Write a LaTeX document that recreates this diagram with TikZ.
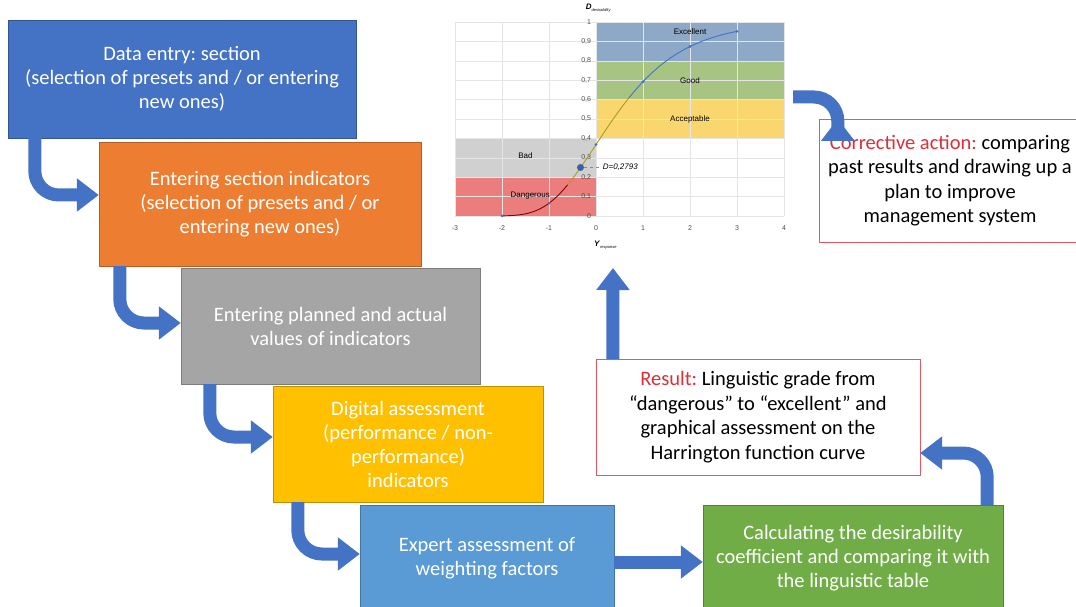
\documentclass[tikz,border=0pt]{standalone}
\usepackage{fontspec}
\setmainfont{Carlito}
\setsansfont{Liberation Sans}
\usepackage{tikz}
\usetikzlibrary{arrows.meta,positioning,calc}
\frenchspacing
\definecolor{cBlue}{HTML}{4472C4}
\definecolor{cOrange}{HTML}{ED7D31}
\definecolor{cGray}{HTML}{A5A5A5}
\definecolor{cGold}{HTML}{FFC000}
\definecolor{cSky}{HTML}{5B9BD5}
\definecolor{cGreen}{HTML}{70AD47}
\definecolor{cRed}{HTML}{D9303A}
\definecolor{zExc}{HTML}{8EA8C8}
\definecolor{zGood}{HTML}{A8C482}
\definecolor{zAcc}{HTML}{FAD66E}
\definecolor{zBad}{HTML}{D0D0D0}
\definecolor{zDng}{HTML}{EB7D7D}
\tikzset{
  stage/.style={draw=#1!75!black,fill=#1,text=white,align=center,inner sep=0pt,font=\fontsize{20.5}{24}\selectfont},
  note/.style={draw=cRed!80,fill=white,align=center,inner sep=0pt,font=\fontsize{20.5}{24.5}\selectfont},
  flow/.style={draw=cBlue,line width=13pt,rounded corners=24pt,-{Triangle[width=32pt,length=22pt]}},
  axlbl/.style={font=\sffamily\fontsize{7}{8}\selectfont,text=black!70,inner sep=1pt},
  zone/.style={font=\sffamily\fontsize{8}{9}\selectfont,inner sep=1pt},
  grid line/.style={draw=black!10,line width=0.5pt},
}

\begin{document}
\begin{tikzpicture}[x=1pt,y=1pt]
 \useasboundingbox (0,0) rectangle (1076,606);
 % stages of the assessment
 \node[stage=cBlue,minimum width=348,minimum height=118] (entry) at (182,527)
   {Data entry: section\\(selection of presets and / or entering\\new ones)};
 \node[stage=cOrange,minimum width=322,minimum height=124] (indic) at (260,402)
   {Entering section indicators\\(selection of presets and / or\\entering new ones)};
 \node[stage=cGray,minimum width=299,minimum height=116] (plan) at (330.5,280)
   {Entering planned and actual\\values of indicators};
 \node[stage=cGold,minimum width=270,minimum height=116] (digit) at (408,162)
   {Digital assessment\\(performance / non-\\performance)\\indicators};
 \node[stage=cSky,minimum width=254,minimum height=106] (expert) at (487,48)
   {Expert assessment of\\weighting factors};
 \node[stage=cGreen,minimum width=300,minimum height=106] (coef) at (853,48)
   {Calculating the desirability\\coefficient and comparing it with\\the linguistic table};
 \node[note,minimum width=324,minimum height=116] (result) at (758,189)
   {\textcolor{cRed}{Result:} Linguistic grade from\\“dangerous” to “excellent” and\\graphical assessment on the\\Harrington function curve};
 \node[note,minimum width=262,minimum height=123] (corr) at (950,425.5)
   {\textcolor{cRed}{Corrective action:} comparing\\past results and drawing up a\\plan to improve\\management system};

 % Harrington desirability chart
 \begin{scope}[shift={(596,390)},x=47pt,y=194pt]
  \fill[zExc] (0,0.8) rectangle (4,1);
  \fill[zGood] (0,0.6) rectangle (4,0.8);
  \fill[zAcc] (0,0.4) rectangle (4,0.6);
  \fill[zBad] (-3,0.2) rectangle (0,0.4);
  \fill[zDng] (-3,0) rectangle (0,0.2);
  \foreach \k in {0,...,10} \draw[grid line] (-3,\k/10) -- (4,\k/10);
  \foreach \k in {-3,...,4} \draw[grid line] (\k,0) -- (\k,1);
  \foreach \k in {-3,...,4} \node[axlbl] (xl\k) at (\k,-0.062) {\k};
  \node[axlbl,anchor=east] (yl0) at (-0.08,0) {0};
  \foreach \k in {1,...,9} \node[axlbl,anchor=east] (yl\k) at (-0.08,\k/10) {0,\k};
  \node[axlbl,anchor=east] (yl10) at (-0.08,1) {1};
  \node[zone] (exc) at (2,0.95) {Excellent};
  \node[zone] (good) at (2,0.7) {Good};
  \node[zone] (acc) at (2,0.5) {Acceptable};
  \node[zone] (bad) at (-1.5,0.31) {Bad};
  \node[zone] (dang) at (-1.4,0.105) {Dangerous};
  \node[font=\sffamily\fontsize{8}{9}\selectfont,inner sep=0pt] (dlab) at (0.05,1.07)
    {\textbf{\textit{D}}\raisebox{-2pt}{\fontsize{4}{4}\selectfont\textit{desirability}}};
  \node[font=\sffamily\fontsize{8}{9}\selectfont,inner sep=0pt] (ylab) at (0.2,-0.15)
    {\textbf{\textit{Y}}\raisebox{-2pt}{\fontsize{4}{4}\selectfont\textit{response}}};
  \draw[line width=0.9pt,draw=red!55!black] plot[domain=-2:-0.6,samples=30,smooth] (\x,{exp(-exp(-\x))});
  \draw[line width=0.9pt,draw=olive!80] plot[domain=-0.6:0.7,samples=30,smooth] (\x,{exp(-exp(-\x))});
  \draw[line width=0.9pt,draw=cBlue] plot[domain=0.7:3,samples=30,smooth] (\x,{exp(-exp(-\x))});
  \foreach \k in {-2,...,3} \fill[cBlue] (\k,{exp(-exp(-\k))}) circle (1.6pt);
  \node[circle,fill=cBlue!85!black,inner sep=0pt,minimum size=7pt] (dpt) at (-0.33,0.25) {};
  \node[anchor=west,font=\sffamily\itshape\fontsize{8}{9}\selectfont,inner sep=1pt] (dval) at (0.12,0.25) {D=0,2793};
  \draw[black!45,dashed] (dpt) -- (dval);
 \end{scope}

 % flow of the assessment
 \coordinate (up) at (613,338);
 \coordinate (chartout) at (793,509);
 \draw[flow] ([xshift=27pt]entry.south west) |- ([yshift=9pt]indic.west);
 \draw[flow] ([xshift=21pt]indic.south west) |- ([yshift=3pt]plan.west);
 \draw[flow] ([xshift=29pt]plan.south west) |- ([yshift=7pt]digit.west);
 \draw[flow] ([xshift=25pt]digit.south west) |- ([yshift=4pt]expert.west);
 \draw[flow] ([yshift=-4pt]expert.east) -- ([yshift=-4pt]coef.west);
 \draw[flow] ([xshift=-16pt]coef.north east) |- ([yshift=-36pt]result.east);
 \draw[flow] ([xshift=17pt]result.north west) -- (up);
 \draw[flow] (chartout) -| ([xshift=19pt]corr.north west);
\end{tikzpicture}
\end{document}
